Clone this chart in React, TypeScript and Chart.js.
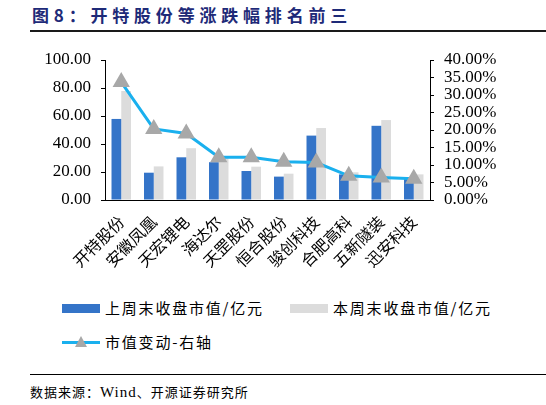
import Chart from "chart.js/auto";
import { useEffect, useRef } from "react";

const categories = [
  "开特股份",
  "安徽凤凰",
  "天宏锂电",
  "海达尔",
  "天罡股份",
  "恒合股份",
  "骏创科技",
  "合肥高科",
  "五新隧装",
  "迅安科技",
];

// 亿元
const lastWeekCap = [57.9, 19.5, 30.5, 27.0, 20.7, 16.7, 46.0, 18.3, 53.0, 15.0];
const thisWeekCap = [77.9, 24.0, 37.0, 31.0, 23.8, 18.8, 51.4, 19.8, 57.1, 18.3];
// %
const capChange = [33.7, 20.3, 19.0, 12.2, 12.2, 10.9, 10.7, 6.9, 6.4, 6.1];

const BLUE = "#3474C8";
const GREY = "#DCDCDC";
const LINE = "#1AB0EE";
const MARKER = "#A8A8A8";

const serif = "'Liberation Serif', 'Times New Roman', serif";
const cjk = "'Noto Sans CJK SC', sans-serif";

export default function App() {
  const canvasRef = useRef<HTMLCanvasElement | null>(null);

  useEffect(() => {
    const canvas = canvasRef.current;
    if (!canvas) return;

    const chart = new Chart(canvas, {
      type: "bar",
      data: {
        labels: categories,
        datasets: [
          {
            type: "line",
            label: "市值变动-右轴",
            data: capChange,
            yAxisID: "y1",
            borderColor: LINE,
            borderWidth: 3,
            pointStyle: "triangle",
            pointRadius: 7,
            pointBackgroundColor: MARKER,
            pointBorderColor: MARKER,
            order: 0,
          },
          {
            label: "上周末收盘市值/亿元",
            data: lastWeekCap,
            backgroundColor: BLUE,
            yAxisID: "y",
            order: 1,
          },
          {
            label: "本周末收盘市值/亿元",
            data: thisWeekCap,
            backgroundColor: GREY,
            yAxisID: "y",
            order: 1,
          },
        ] as any,
      },
      options: {
        animation: false,
        responsive: false,
        maintainAspectRatio: false,
        layout: { padding: { top: 60, left: 0, right: 0, bottom: 0 } },
        datasets: {
          bar: { categoryPercentage: 0.6, barPercentage: 1 },
        },
        plugins: {
          legend: { display: false },
          tooltip: { enabled: false },
        },
        scales: {
          x: {
            grid: { display: false, drawTicks: false },
            border: { color: "#000", width: 1 },
            ticks: {
              minRotation: 45,
              maxRotation: 45,
              autoSkip: false,
              padding: 12,
              color: "#000",
              font: { family: cjk, size: 16 },
            },
            afterFit(scale) {
              scale.height = 80;
            },
          },
          y: {
            position: "left",
            min: 0,
            max: 100,
            grid: {
              drawOnChartArea: false,
              drawTicks: true,
              tickLength: 4,
              color: "#000",
            },
            border: { color: "#000", width: 1 },
            ticks: {
              stepSize: 20,
              autoSkip: false,
              padding: 10,
              color: "#000",
              font: { family: serif, size: 17 },
              callback: (v) => Number(v).toFixed(2),
            },
            afterFit(scale) {
              scale.width = 105;
            },
          },
          y1: {
            position: "right",
            min: 0,
            max: 40,
            grid: {
              drawOnChartArea: false,
              drawTicks: true,
              tickLength: 4,
              color: "#000",
            },
            border: { color: "#000", width: 1 },
            ticks: {
              stepSize: 5,
              autoSkip: false,
              padding: 10,
              color: "#000",
              font: { family: serif, size: 17 },
              callback: (v) => Number(v).toFixed(2) + "%",
            },
            afterFit(scale) {
              scale.width = 116;
            },
          },
        },
      },
    });

    return () => {
      chart.destroy();
    };
  }, []);

  const legendText: React.CSSProperties = {
    fontFamily: cjk,
    fontSize: 15,
    letterSpacing: 1.8,
    color: "#000",
    lineHeight: "20px",
  };

  return (
    <div
      style={{
        position: "fixed",
        left: 0,
        top: 0,
        width: 546,
        height: 405,
        background: "#fff",
        overflow: "hidden",
      }}
    >
      <div
        style={{
          position: "absolute",
          left: 32,
          top: 4,
          fontFamily: cjk,
          fontWeight: 700,
          fontSize: 17,
          letterSpacing: 4.8,
          color: "#1E2A78",
          lineHeight: "22px",
          whiteSpace: "nowrap",
        }}
      >
        图8：开特股份等涨跌幅排名前三
      </div>
      <div
        style={{
          position: "absolute",
          left: 30,
          top: 30,
          width: 516,
          height: 2,
          background: "#1a1a1a",
        }}
      />
      <canvas
        ref={canvasRef}
        width={546}
        height={280}
        style={{ position: "absolute", left: 0, top: 0, width: 546, height: 280 }}
      />
      {/* legend */}
      <div style={{ position: "absolute", left: 62, top: 304, width: 38, height: 9, background: BLUE }} />
      <div style={{ position: "absolute", left: 105, top: 298, ...legendText }}>上周末收盘市值/亿元</div>
      <div style={{ position: "absolute", left: 290, top: 304, width: 38, height: 9, background: GREY }} />
      <div style={{ position: "absolute", left: 333, top: 298, ...legendText }}>本周末收盘市值/亿元</div>
      <div style={{ position: "absolute", left: 62, top: 341, width: 38, height: 3, background: LINE }} />
      <div
        style={{
          position: "absolute",
          left: 75,
          top: 336,
          width: 0,
          height: 0,
          borderLeft: "6px solid transparent",
          borderRight: "6px solid transparent",
          borderBottom: "11px solid " + MARKER,
        }}
      />
      <div style={{ position: "absolute", left: 105, top: 332, ...legendText }}>市值变动-右轴</div>
      {/* footer */}
      <div style={{ position: "absolute", left: 30, top: 374, width: 516, height: 1, background: "#000" }} />
      <div
        style={{
          position: "absolute",
          left: 30,
          top: 382,
          fontFamily: cjk,
          fontSize: 13,
          letterSpacing: 1,
          color: "#000",
          lineHeight: "20px",
          whiteSpace: "nowrap",
        }}
      >
        数据来源：<span style={{ fontFamily: serif, fontSize: 15 }}>Wind</span>、开源证券研究所
      </div>
    </div>
  );
}
